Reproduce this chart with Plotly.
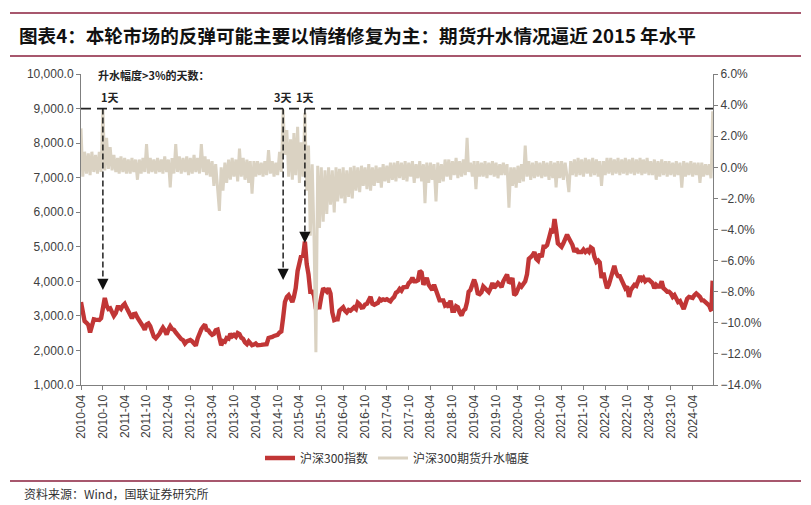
import plotly.graph_objects as go
from datetime import date

# ---------------- data ----------------
# sampling dates: 1st and 16th of each month, 2010-04-16 .. 2024-09-16, plus the last days of Sept 2024
dates = []
for yy in range(2010, 2025):
    for mm in range(1, 13):
        for dd in (1, 16):
            d = date(yy, mm, dd)
            if date(2010, 4, 16) <= d <= date(2024, 9, 16):
                dates.append(d.isoformat())
dates += ["2024-09-20", "2024-09-24", "2024-09-30"]

# CSI 300 index (left axis)
csi300 = [
    3400, 3070, 2850, 2800, 2740, 2520, 2700, 2900, 2890, 2900, 2880, 2935, 3300, 3520, 3300, 3200, 3220,  # 2010
    3130, 3000, 3080, 3250, 3250, 3200, 3300, 3350, 3240, 3130, 3050, 2930, 3050, 3060, 2950, 2880, 2800, 2700, 2600, 2750, 2780, 2700, 2550, 2400,  # 2011
    2350, 2400, 2480, 2580, 2660, 2580, 2460, 2600, 2700, 2620, 2600, 2520, 2450, 2400, 2330, 2300, 2200, 2260, 2290, 2300, 2260, 2180, 2140, 2350,  # 2012
    2520, 2610, 2690, 2750, 2600, 2580, 2500, 2450, 2480, 2580, 2600, 2350, 2150, 2270, 2250, 2360, 2340, 2480, 2410, 2450, 2400, 2500, 2470, 2370,  # 2013
    2330, 2230, 2180, 2260, 2200, 2150, 2170, 2200, 2150, 2140, 2160, 2170, 2170, 2180, 2360, 2360, 2390, 2420, 2450, 2450, 2520, 2550, 2950, 3400,  # 2014
    3550, 3600, 3500, 3400, 3550, 3800, 4300, 4550, 4750, 4700, 5150, 4500, 4200, 3700, 3700, 3600, 3200, 3250, 3250, 3550, 3800, 3750, 3700, 3800,  # 2015
    3650, 3100, 2880, 2900, 2900, 3150, 3230, 3250, 3150, 3100, 3170, 3150, 3200, 3250, 3200, 3380, 3330, 3240, 3250, 3330, 3350, 3450, 3550, 3350,  # 2016
    3320, 3350, 3380, 3480, 3450, 3480, 3460, 3480, 3430, 3420, 3500, 3550, 3670, 3700, 3780, 3730, 3830, 3840, 3840, 3950, 4000, 4100, 4000, 4000,  # 2017
    4030, 4300, 4250, 3900, 4030, 4100, 3900, 3800, 3750, 3900, 3750, 3600, 3450, 3450, 3450, 3300, 3330, 3250, 3440, 3150, 3150, 3280, 3250, 3100,  # 2018
    3010, 3150, 3200, 3400, 3700, 3750, 3870, 4050, 3900, 3650, 3630, 3680, 3850, 3800, 3780, 3690, 3800, 3950, 3810, 3900, 3950, 3900, 3830, 4000,  # 2019
    4100, 4200, 3950, 4000, 4100, 3600, 3650, 3800, 3900, 3850, 3950, 4000, 4200, 4650, 4700, 4750, 4850, 4650, 4600, 4800, 4700, 5000, 5000, 5050,  # 2020
    5250, 5450, 5400, 5800, 5500, 5100, 5050, 5000, 5100, 5200, 5350, 5250, 5150, 5050, 4850, 4950, 4850, 4850, 4850, 4920, 4850, 4900, 4850, 4980,  # 2021
    4940, 4700, 4560, 4600, 4550, 4100, 4250, 4000, 3800, 3900, 4100, 4300, 4450, 4250, 4150, 4150, 4050, 3950, 3800, 3850, 3550, 3750, 3850, 3900,  # 2022
    3870, 4050, 4150, 4050, 4100, 4000, 4050, 4050, 4000, 3950, 3800, 3900, 3850, 3850, 4000, 3800, 3750, 3700, 3700, 3650, 3550, 3600, 3500, 3400,  # 2023
    3430, 3300, 3200, 3350, 3500, 3550, 3550, 3520, 3600, 3650, 3600, 3550, 3450, 3450, 3400, 3350, 3300, 3170,  # 2024 Jan-Sep16
    3160, 3530, 4020,  # late Sept 2024
]

# CSI 300 futures premium, % (right axis)
premium = [
    2.5, -0.6, 1.0, -0.4, 0.9, -0.5, 1.0, -0.3, 0.8, -0.4, 1.0, -0.3, 3.7, -0.2, 1.9, -0.1, 1.3,  # 2010
    -0.2, 0.8, -0.3, 0.6, -0.4, 0.7, -0.3, 0.6, -0.4, 0.5, -0.4, 0.6, -0.3, 0.5, -0.8, 0.5, -0.4, 0.6, -0.3, 1.5, -0.4, 0.6, -0.3, 0.5,  # 2011
    -0.4, 0.6, -0.3, 0.5, -0.4, 0.7, -0.3, 0.5, -1.3, 0.6, -0.4, 1.5, -0.3, 0.7, -0.4, 0.6, -0.3, 0.7, -0.5, 0.6, -0.4, 0.8, -0.3, 0.6,  # 2012
    -0.4, 1.5, -0.3, 0.7, -0.5, 0.5, -0.6, 0.4, -1.2, 0.2, -1.7, -2.8, 0.0, -1.5, 0.3, -1.0, 0.5, -0.8, 0.6, -0.6, 0.5, -0.9, 1.2, -0.6,  # 2013
    0.6, -0.8, 0.5, -1.0, 0.4, -1.7, 0.4, -0.6, 0.4, -0.5, 0.3, -0.6, 0.4, -0.5, 1.1, -0.4, 0.4, -0.6, 0.3, -0.5, 1.0, -0.3, 3.7, 0.8,  # 2014
    2.4, -0.6, 1.8, -0.8, 2.2, -0.5, 2.6, -1.0, 1.6, -0.6, 3.5, -1.5, 1.4, -4.4, 0.2, -4.4, -11.9, 0.1, -3.9, 0.0, -3.5, -0.2, -3.0, 0.0,  # 2015
    -2.4, -0.2, -2.9, 0.0, -2.2, -0.1, -2.0, 0.0, -2.3, -0.2, -1.9, 0.0, -2.0, 0.1, -1.5, 0.0, -1.6, 0.1, -1.2, 0.0, -1.4, 0.2, -1.5, 0.0,  # 2016
    -1.2, 0.1, -1.0, 0.0, -1.3, 0.2, -0.9, 0.1, -1.0, 0.3, -0.8, 0.3, -0.9, 0.4, -0.7, 0.3, -0.8, 0.4, -0.9, 0.3, -0.6, 0.4, -1.0, 0.2,  # 2017
    -0.7, 0.4, -0.9, 0.2, -2.3, 0.3, -1.0, 0.3, -0.8, 0.2, -2.2, 0.3, -1.0, 0.2, -0.9, 0.5, -0.6, 0.5, -0.8, 0.4, -0.5, 0.6, -0.7, 0.4,  # 2018
    -0.6, 0.5, -0.5, 1.9, -0.3, 0.3, -0.6, 0.4, -1.4, 0.4, -0.6, 0.3, -0.6, 0.4, -0.7, 0.3, -0.5, 0.4, -0.6, 0.3, -0.7, 0.2, -0.5, 0.3,  # 2019
    -0.5, 0.2, -2.6, 0.0, -1.2, 0.0, -1.3, 0.1, -1.0, 0.2, -0.9, 1.4, -0.6, 0.4, -0.8, 0.3, -0.7, 0.4, -0.6, 0.3, -0.7, 0.4, -0.6, 0.3,  # 2020
    -0.8, 0.4, -0.7, 0.3, -1.3, 0.4, -0.7, 0.4, -0.8, 0.3, -0.6, -1.6, 0.4, -0.5, 0.5, -0.6, 0.6, -0.5, 0.5, -0.6, 0.6, -0.4, 0.5, -0.6,  # 2021
    0.6, -0.5, 0.5, -0.6, 0.4, -1.2, 0.4, -0.5, 0.6, -0.4, 0.6, -0.5, 0.5, -0.4, 0.6, -0.5, 0.5, -0.4, 0.6, -0.5, 0.5, -0.4, 0.6, -0.5,  # 2022
    0.5, -0.4, 0.6, -0.5, 0.5, -0.4, 0.6, -0.5, 0.4, -0.5, 0.5, -0.8, 0.4, -0.6, 0.5, -0.5, 0.4, -0.6, 0.4, -0.5, 0.3, -0.6, 0.4, -0.5,  # 2023
    0.3, -1.3, 0.4, -0.6, 0.3, -0.5, 0.4, -0.6, 0.3, -0.5, 0.3, -1.0, 0.3, -0.6, 0.2, -0.5, 0.2, -0.7,  # 2024 Jan-Sep16
    0.0, 1.0, 3.6,  # late Sept 2024
]

assert len(dates) == len(csi300) == len(premium), (len(dates), len(csi300), len(premium))

# annotation data
threshold_level = 9000                      # dashed reference line (left-axis units)
arrow_dates = ["2010-10-16", "2014-12-01", "2015-06-01"]
arrow_tips = [3750, 4040, 5110]
arrow_labels = ["1天", "3天", "1天"]
arrow_label_shift = [7, 0, 0]

title_text = "图表4：本轮市场的反弹可能主要以情绪修复为主：期货升水情况逼近 2015 年水平"
source_text = "资料来源：Wind，国联证券研究所"
note_text = "升水幅度>3%的天数："

RED = "#C13636"
BEIGE = "#DAD2C2"
RULE = "#8A1F3D"
AXIS = "#7F7F7F"
TXT = "#404040"
LATIN = "Liberation Sans, Arial, Noto Sans CJK SC"
CJK = "Noto Sans CJK SC, Liberation Sans"

fig = go.Figure()
fig.add_trace(go.Scatter(x=dates, y=csi300, mode="lines", name="沪深300指数",
                         line=dict(color=RED, width=4.4), yaxis="y"))
fig.add_trace(go.Scatter(x=dates, y=premium, mode="lines", name="沪深300期货升水幅度",
                         line=dict(color=BEIGE, width=3.0), yaxis="y2"))

W, H = 811, 505
L, R, T, B = 81, 98, 74, 120
pw, ph = W - L - R, H - T - B


def px(x):
    return (x - L) / pw


def py(y):
    return (H - B - y) / ph


shapes = []
annotations = []

# title rules and bottom rule
for yy in (13, 56, 481):
    shapes.append(dict(type="line", xref="paper", yref="paper", x0=px(10), x1=px(801),
                       y0=py(yy), y1=py(yy), line=dict(color=RULE, width=1.3), layer="above"))

# dashed threshold line
shapes.append(dict(type="line", xref="paper", yref="y", x0=0, x1=1, y0=threshold_level, y1=threshold_level,
                   line=dict(color="#222222", width=1.8, dash="10px,6px")))

for d, tip, lab, sh in zip(arrow_dates, arrow_tips, arrow_labels, arrow_label_shift):
    shapes.append(dict(type="line", xref="x", yref="y", x0=d, x1=d, y0=threshold_level, y1=tip + 330,
                       line=dict(color="#111111", width=1.4, dash="6px,3px")))
    annotations.append(dict(x=d, y=tip, xref="x", yref="y", ax=0, ay=-12, axref="pixel", ayref="pixel",
                            text="", showarrow=True, arrowhead=2, arrowsize=1.5, arrowwidth=1.5,
                            arrowcolor="#111111"))
    annotations.append(dict(x=d, y=py(97), xref="x", yref="paper", text="<b>%s</b>" % lab, showarrow=False,
                            xshift=sh, font=dict(family=CJK, size=11, color="#222222"),
                            xanchor="center", yanchor="middle"))

annotations.append(dict(x=px(96), y=py(75), xref="paper", yref="paper", text="<b>%s</b>" % note_text,
                        showarrow=False, xanchor="left", yanchor="middle",
                        font=dict(family=CJK, size=11, color="#222222")))
annotations.append(dict(x=px(17), y=py(35), xref="paper", yref="paper", text="<b>%s</b>" % title_text,
                        showarrow=False, xanchor="left", yanchor="middle",
                        font=dict(family=CJK, size=18.6, color="#111111")))
annotations.append(dict(x=px(22), y=py(493), xref="paper", yref="paper", text=source_text,
                        showarrow=False, xanchor="left", yanchor="middle",
                        font=dict(family=CJK, size=12, color="#333333")))

fig.update_layout(
    width=W, height=H,
    margin=dict(l=L, r=R, t=T, b=B, pad=0),
    paper_bgcolor="white", plot_bgcolor="white",
    showlegend=True,
    legend=dict(orientation="h", x=0.5, xanchor="center", y=py(458), yanchor="middle",
                font=dict(family=CJK, size=12, color="#333333"), itemwidth=30,
                bgcolor="rgba(0,0,0,0)"),
    xaxis=dict(type="date", range=["2010-04-16", "2024-10-03"], tick0="2010-04-16", dtick="M6",
               tickformat="%Y-%m", tickangle=-90, showgrid=False, zeroline=False,
               showline=True, linecolor=AXIS, linewidth=1, ticks="outside", ticklen=4, tickcolor=AXIS,
               tickfont=dict(family=LATIN, size=12, color=TXT)),
    yaxis=dict(range=[1000, 10000], dtick=1000, tickformat=",.1f", showgrid=False, zeroline=False,
               showline=True, linecolor=AXIS, linewidth=1, ticks="outside", ticklen=4, tickcolor=AXIS,
               tickfont=dict(family=LATIN, size=12, color=TXT)),
    yaxis2=dict(range=[-14, 6], dtick=2, tickformat=".1f", ticksuffix="%", overlaying="y", side="right",
                showgrid=False, zeroline=False, showline=True, linecolor=AXIS, linewidth=1,
                ticks="outside", ticklen=4, tickcolor=AXIS,
                tickfont=dict(family=LATIN, size=12, color=TXT)),
    shapes=shapes,
    annotations=annotations,
)

fig.write_html("out.html")
